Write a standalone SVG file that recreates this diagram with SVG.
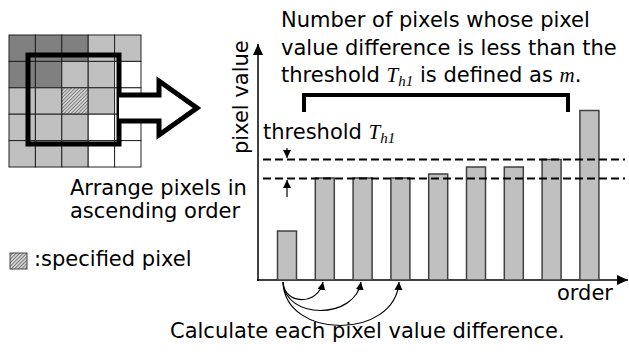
<svg xmlns="http://www.w3.org/2000/svg" width="629" height="354" viewBox="0 0 629 354">
<style>
.t{font-family:"DejaVu Sans","Verdana",sans-serif;font-size:21px;fill:#000}
.m{font-family:"Liberation Serif","Times New Roman",serif;font-style:italic}
.cell{stroke:#222;stroke-width:1}
.d{fill:#808080}.l{fill:#c0c0c0}.w{fill:#fff}
.bar{fill:#c0c0c0;stroke:#404040;stroke-width:1.5}
.dash{stroke:#000;stroke-width:2;stroke-dasharray:8 4;fill:none}
.thin{stroke:#000;stroke-width:1.2;fill:none}
</style>
<defs>
<pattern id="hatch" width="2.5" height="2.5" patternUnits="userSpaceOnUse" patternTransform="rotate(45)">
<rect width="2.5" height="2.5" fill="#dadada"/>
<rect width="1" height="2.5" fill="#777"/>
</pattern>
<marker id="ah" markerWidth="10" markerHeight="10" refX="8" refY="4" orient="auto" markerUnits="userSpaceOnUse">
<path d="M0,0 L8,4 L0,8 z" fill="#000"/>
</marker>
<marker id="big" markerWidth="14" markerHeight="14" refX="11" refY="5" orient="auto" markerUnits="userSpaceOnUse">
<path d="M0,0 L11,5 L0,10 z" fill="#000"/>
</marker>
</defs>

<g id="pixel-grid">
<rect class="cell d" x="9" y="35" width="26.4" height="26.4"/>
<rect class="cell d" x="35.4" y="35" width="26.4" height="26.4"/>
<rect class="cell d" x="61.8" y="35" width="26.4" height="26.4"/>
<rect class="cell l" x="88.2" y="35" width="26.4" height="26.4"/>
<rect class="cell l" x="114.6" y="35" width="26.4" height="26.4"/>
<rect class="cell d" x="9" y="61.4" width="26.4" height="26.4"/>
<rect class="cell d" x="35.4" y="61.4" width="26.4" height="26.4"/>
<rect class="cell l" x="61.8" y="61.4" width="26.4" height="26.4"/>
<rect class="cell l" x="88.2" y="61.4" width="26.4" height="26.4"/>
<rect class="cell w" x="114.6" y="61.4" width="26.4" height="26.4"/>
<rect class="cell l" x="9" y="87.8" width="26.4" height="26.4"/>
<rect class="cell l" x="35.4" y="87.8" width="26.4" height="26.4"/>
<rect class="cell" fill="url(#hatch)" x="61.8" y="87.8" width="26.4" height="26.4"/>
<rect class="cell l" x="88.2" y="87.8" width="26.4" height="26.4"/>
<rect class="cell w" x="114.6" y="87.8" width="26.4" height="26.4"/>
<rect class="cell l" x="9" y="114.2" width="26.4" height="26.4"/>
<rect class="cell l" x="35.4" y="114.2" width="26.4" height="26.4"/>
<rect class="cell l" x="61.8" y="114.2" width="26.4" height="26.4"/>
<rect class="cell w" x="88.2" y="114.2" width="26.4" height="26.4"/>
<rect class="cell w" x="114.6" y="114.2" width="26.4" height="26.4"/>
<rect class="cell l" x="9" y="140.6" width="26.4" height="26.4"/>
<rect class="cell l" x="35.4" y="140.6" width="26.4" height="26.4"/>
<rect class="cell l" x="61.8" y="140.6" width="26.4" height="26.4"/>
<rect class="cell w" x="88.2" y="140.6" width="26.4" height="26.4"/>
<rect class="cell w" x="114.6" y="140.6" width="26.4" height="26.4"/>
</g>

<g id="window">
<rect x="28" y="55" width="91" height="89" fill="none" stroke="#000" stroke-width="5"/>
</g>

<g id="block-arrow">
<path d="M119,95 L159,95 L159,81 L197,108 L159,135 L159,121 L119,121" fill="#fff" stroke="#000" stroke-width="5" stroke-linejoin="miter"/>
</g>

<g id="legend">
<rect x="10" y="253" width="17" height="16" fill="url(#hatch)" stroke="#444" stroke-width="1"/>
<text class="t" x="34" y="266">:specified pixel</text>
</g>

<g id="left-label">
<text class="t" x="70" y="195">Arrange pixels in</text>
<text class="t" x="70" y="218">ascending order</text>
</g>

<g id="top-label">
<text class="t" x="281" y="27">Number of pixels whose pixel</text>
<text class="t" x="281" y="55">value difference is less than the</text>
<text class="t" x="281" y="82">threshold <tspan class="m">T</tspan><tspan class="m" font-size="15" dy="4">h1</tspan><tspan dy="-4"> is defined as </tspan><tspan class="m">m</tspan>.</text>
</g>

<g id="bracket">
<path d="M304,112 L304,95 L568,95 L568,112" fill="none" stroke="#000" stroke-width="4"/>
</g>

<g id="axes">
<line x1="258" y1="281" x2="258" y2="44" stroke="#000" stroke-width="1.5" marker-end="url(#big)"/>
<line x1="257" y1="280" x2="628" y2="280" stroke="#000" stroke-width="1.5" marker-end="url(#big)"/>
<text class="t" transform="translate(248,154) rotate(-90)">pixel value</text>
<text class="t" x="557" y="300">order</text>
</g>

<g id="bars">
<rect class="bar" x="277.5" y="231" width="19" height="49"/>
<rect class="bar" x="315.3" y="178" width="19" height="102"/>
<rect class="bar" x="353.1" y="178" width="19" height="102"/>
<rect class="bar" x="390.9" y="178" width="19" height="102"/>
<rect class="bar" x="428.7" y="174" width="19" height="106"/>
<rect class="bar" x="466.5" y="167" width="19" height="113"/>
<rect class="bar" x="504.3" y="167" width="19" height="113"/>
<rect class="bar" x="542.1" y="159.5" width="19" height="120.5"/>
<rect class="bar" x="579.9" y="110.5" width="19" height="169.5"/>
</g>

<g id="threshold">
<line class="dash" x1="263" y1="159.5" x2="625" y2="159.5"/>
<line class="dash" x1="263" y1="178.5" x2="625" y2="178.5"/>
<text class="t" x="263" y="139">threshold <tspan class="m">T</tspan><tspan class="m" font-size="15" dy="4">h1</tspan></text>
</g>

<g id="connectors">
<line class="thin" x1="287" y1="148" x2="287" y2="158" marker-end="url(#ah)"/>
<line class="thin" x1="287" y1="197" x2="287" y2="180" marker-end="url(#ah)"/>
<path class="thin" d="M283,282 C284,305 318,306 323,282" marker-end="url(#ah)"/>
<path class="thin" d="M283,282 C285,320 355,320 361,282" marker-end="url(#ah)"/>
<path class="thin" d="M283,282 C285,340 395,340 399,282" marker-end="url(#ah)"/>
</g>

<g id="bottom-label">
<text class="t" x="170" y="338" font-size="22">Calculate each pixel value difference.</text>
</g>
</svg>
